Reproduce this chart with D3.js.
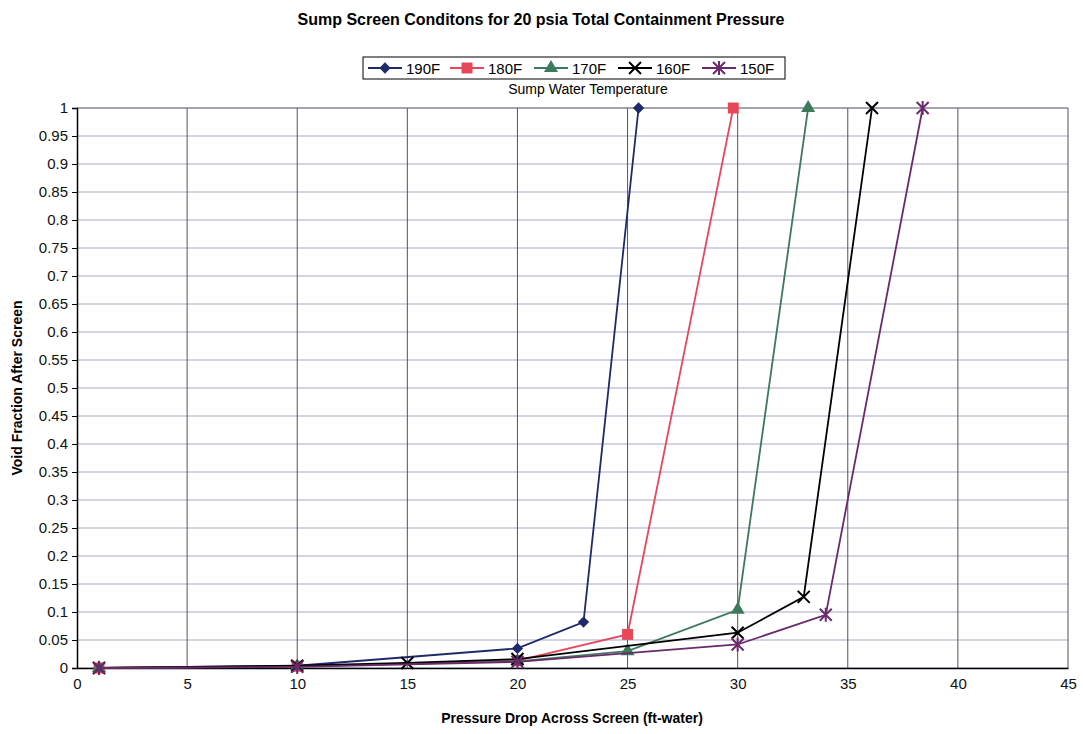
<!DOCTYPE html>
<html><head><meta charset="utf-8">
<script src="https://cdn.jsdelivr.net/npm/d3@7"></script>
<style>body{margin:0;background:#fff;font-family:Arial,"Liberation Sans",sans-serif;}</style>
</head><body><svg id="c" width="1083" height="734"></svg>
<script>
const seriesNames = ["190F","180F","170F","160F","150F"];
const seriesColors = ["#1f2a6b","#e8475a","#3d7a5c","#000000","#6b2a6b"];
const seriesSymbols = ["diamond","square","triangle","x","star"];
const x190 = [1,10,20,23,25.5];   const y190 = [0,0.004,0.035,0.082,1];
const x180 = [1,10,20,25,29.8];   const y180 = [0,0.003,0.013,0.06,1];
const x170 = [1,10,20,25,30,33.2]; const y170 = [0,0.003,0.012,0.03,0.104,1];
const x160 = [1,10,15,20,30,33,36.1]; const y160 = [0,0.004,0.009,0.016,0.063,0.127,1];
const x150 = [1,10,20,30,34,38.4]; const y150 = [0,0.002,0.011,0.042,0.095,1];
const xTicks = d3.range(0,46,5);
const yTicks = d3.range(0,21).map(i=>+(i*0.05).toFixed(2));
const data = [[x190,y190],[x180,y180],[x170,y170],[x160,y160],[x150,y150]];

const svg = d3.select("#c");
const L=77,R=1068,T=108,B=668;
const x = d3.scaleLinear().domain([0,45]).range([L,R]);
const y = d3.scaleLinear().domain([0,1]).range([B,T]);

svg.append("g").selectAll("line").data(yTicks).join("line")
 .attr("x1",L).attr("x2",R).attr("y1",d=>y(d)).attr("y2",d=>y(d))
 .attr("stroke","#a9a6cc").attr("stroke-width",1);
svg.append("g").selectAll("line").data(xTicks.slice(1)).join("line")
 .attr("x1",d=>x(d)).attr("x2",d=>x(d)).attr("y1",T).attr("y2",B)
 .attr("stroke","#555").attr("stroke-width",1);
svg.append("line").attr("x1",L).attr("x2",R).attr("y1",T).attr("y2",T).attr("stroke","#777");

const xa = svg.append("g").attr("transform",`translate(0,${B})`)
 .call(d3.axisBottom(x).tickValues(xTicks).tickSize(0).tickPadding(10));
xa.select(".domain").attr("stroke","#000").attr("stroke-width",1.5);
xa.selectAll("text").attr("font-size",15).attr("font-family","Arial").attr("fill","#111");
const ya = svg.append("g").attr("transform",`translate(${L},0)`)
 .call(d3.axisLeft(y).tickValues(yTicks).tickSize(5).tickPadding(4).tickFormat(d=>String(d)));
ya.select(".domain").attr("stroke","#000").attr("stroke-width",1.5);
ya.selectAll("line").attr("stroke","#000");
ya.selectAll("text").attr("font-size",15).attr("font-family","Arial").attr("fill","#111");

function marker(g,type,color,px,py){
  if(type==="x"){
    const s=6;
    g.append("path").attr("d",`M${px-s},${py-s}L${px+s},${py+s}M${px-s},${py+s}L${px+s},${py-s}`)
     .attr("stroke",color).attr("stroke-width",2).attr("fill","none");
  } else if(type==="star"){
    const s=6;
    g.append("path").attr("d",`M${px-s},${py-s}L${px+s},${py+s}M${px-s},${py+s}L${px+s},${py-s}M${px},${py-s-1}L${px},${py+s+1}`)
     .attr("stroke",color).attr("stroke-width",2).attr("fill","none");
  } else if(type==="diamond"){
    g.append("path").attr("d",d3.symbol().type(d3.symbolSquare).size(64)())
     .attr("transform",`translate(${px},${py}) rotate(45)`).attr("fill",color);
  } else {
    const sym = type==="square"?d3.symbolSquare:d3.symbolTriangle;
    const size = type==="square"?120:85;
    g.append("path").attr("d",d3.symbol().type(sym).size(size)())
     .attr("transform",`translate(${px},${py})`).attr("fill",color);
  }
}
const line = d3.line().x(d=>x(d[0])).y(d=>y(d[1]));
data.forEach(([xs,ys],i)=>{
  const pts = xs.map((v,j)=>[v,ys[j]]);
  const g = svg.append("g");
  g.append("path").attr("d",line(pts)).attr("fill","none").attr("stroke",seriesColors[i]).attr("stroke-width",1.8);
  pts.forEach(p=>marker(g,seriesSymbols[i],seriesColors[i],x(p[0]),y(p[1])));
});

svg.append("text").attr("x",541).attr("y",25).attr("text-anchor","middle")
 .attr("font-size",16).attr("font-weight","bold").attr("font-family","Arial").text("Sump Screen Conditons for 20 psia Total Containment Pressure");
svg.append("text").attr("x",572).attr("y",723).attr("text-anchor","middle")
 .attr("font-size",14).attr("font-weight","bold").attr("font-family","Arial").text("Pressure Drop Across Screen (ft-water)");
svg.append("text").attr("transform","translate(22,388) rotate(-90)").attr("text-anchor","middle")
 .attr("font-size",14).attr("font-weight","bold").attr("font-family","Arial").text("Void Fraction After Screen");

const lg = svg.append("g");
lg.append("rect").attr("x",363).attr("y",57).attr("width",422).attr("height",22).attr("fill","#fff").attr("stroke","#000");
const lx = [368,450,534,618,702];
seriesNames.forEach((n,i)=>{
  const g=lg.append("g");
  g.append("line").attr("x1",lx[i]).attr("x2",lx[i]+34).attr("y1",68).attr("y2",68).attr("stroke",seriesColors[i]).attr("stroke-width",2);
  marker(g,seriesSymbols[i],seriesColors[i],lx[i]+17,68);
  g.append("text").attr("x",lx[i]+38).attr("y",73.5).attr("font-size",15).attr("font-family","Arial").text(n);
});
svg.append("text").attr("x",588).attr("y",94).attr("text-anchor","middle").attr("font-size",14).attr("font-family","Arial").text("Sump Water Temperature");
</script></body></html>
